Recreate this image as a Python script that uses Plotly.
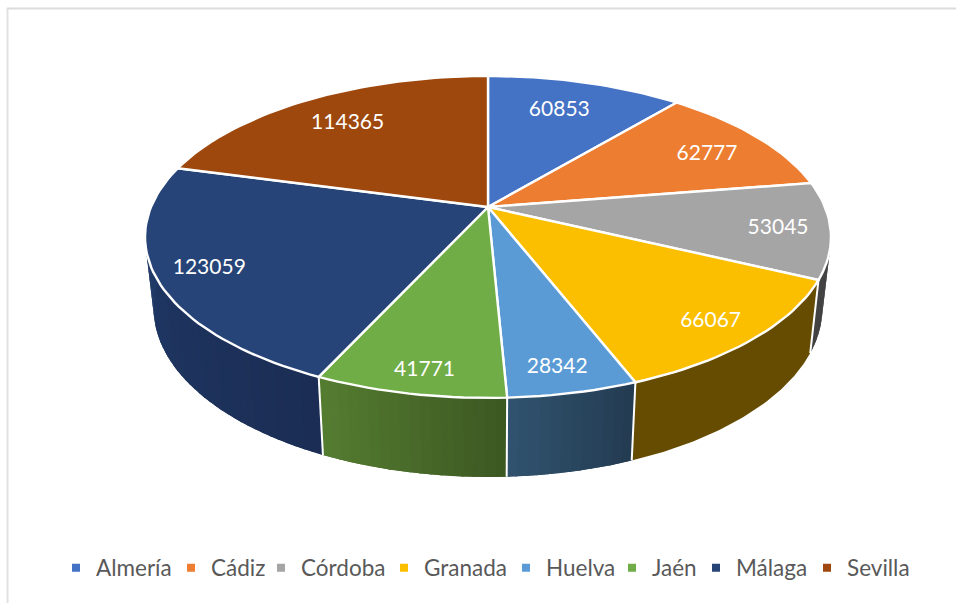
import math
import plotly.graph_objects as go

categories = ["Almería", "Cádiz", "Córdoba", "Granada", "Huelva", "Jaén", "Málaga", "Sevilla"]
values = [60853, 62777, 53045, 66067, 28342, 41771, 123059, 114365]
colors = ["#4472C4", "#ED7D31", "#A5A5A5", "#FBBF00", "#5B9BD5", "#70AD47", "#264478", "#9E480E"]
# rim shading, in clockwise order (screen right to left on the front half)
side_from = [None, None, "#3c3c3c", "#664C00", "#233B51", "#3C5822", "#1B2D54", None]
side_to = [None, None, "#444444", "#664C00", "#31536F", "#557D31", "#213D6C", None]
label_radius = [0.76, 0.79, 0.85, 0.862, 0.872, 0.882, 0.85, 0.771]
label_turn = [-1.5, 1.3, 0.0, 0.3, 0.5, -0.7, 0.4, 0.4]
legend_pitch = [115, 90, 123, 122, 106, 84, 111, 115]

# perspective projection of the pie disc
CX, CY, A, B, K = 488.0, 207.0, 337.0, 155.4, 0.186
BOT_CY, BOT_SX, BOT_SY = 276.5, 0.975, 1.05
LABEL_DY = 2.5


def top(deg, r=1.0):
    t = math.radians(deg)
    X, Y = r * math.sin(t), r * math.cos(t)
    d = 1 + K * Y
    return CX + A * X / d, CY - B * Y / d


def bottom(deg):
    t = math.radians(deg)
    X, Y = math.sin(t), math.cos(t)
    d = 1 + K * Y
    return CX + BOT_SX * A * X / d, BOT_CY - BOT_SY * B * Y / d


def mix(c1, c2, f):
    a = [int(c1[i:i + 2], 16) for i in (1, 3, 5)]
    b = [int(c2[i:i + 2], 16) for i in (1, 3, 5)]
    return "rgb(%d,%d,%d)" % tuple(round(p + (q - p) * f) for p, q in zip(a, b))


def band(s0, s1, col):
    n = max(2, int((s1 - s0) / 0.75))
    steps = [s0 + (s1 - s0) * q / n for q in range(n + 1)]
    pts = [top(s) for s in steps] + [bottom(s) for s in reversed(steps)]
    pts.append(pts[0])
    return go.Scatter(x=[p[0] for p in pts], y=[p[1] for p in pts], mode="lines",
                      fill="toself", fillcolor=col, line=dict(width=0),
                      hoverinfo="skip", showlegend=False)


total = sum(values)
edges = [0.0]
for v in values:
    edges.append(edges[-1] + v / total * 360)

fig = go.Figure()

# rim (side wall) of the front half: a solid base, then shaded bands on it
VIS_START, VIS_END = 78.0, 281.0
for i in range(len(values)):
    if side_from[i] is None:
        continue
    a0, a1 = max(edges[i], VIS_START), min(edges[i + 1], VIS_END)
    fig.add_trace(band(a0, a1, mix(side_from[i], side_to[i], 0.5)))
    if side_from[i] == side_to[i]:
        continue
    n = max(2, int((a1 - a0) / 1.5))
    for j in range(n):
        s0 = a0 + (a1 - a0) * j / n
        s1 = a0 + (a1 - a0) * (j + 1) / n
        fig.add_trace(band(s0, min(s1 + 0.4, a1), mix(side_from[i], side_to[i], (j + 0.5) / n)))

# white seams on the rim
for i in range(1, len(values)):
    e = edges[i]
    if VIS_START < e < VIS_END:
        p, q = top(e), bottom(e)
        fig.add_trace(go.Scatter(x=[p[0], q[0]], y=[p[1], q[1]], mode="lines",
                                 line=dict(color="white", width=2),
                                 hoverinfo="skip", showlegend=False))

# top face
for i, cat in enumerate(categories):
    n = max(8, int((edges[i + 1] - edges[i]) / 1.5))
    arc = [top(edges[i] + (edges[i + 1] - edges[i]) * j / n) for j in range(n + 1)]
    pts = [(CX, CY)] + arc + [(CX, CY)]
    fig.add_trace(go.Scatter(x=[p[0] for p in pts], y=[p[1] for p in pts], mode="lines",
                             fill="toself", fillcolor=colors[i], line=dict(color="white", width=2.4),
                             name=cat, hoverinfo="skip", showlegend=False))

# data labels
lab = [top((edges[i] + edges[i + 1]) / 2 + label_turn[i], label_radius[i]) for i in range(len(values))]
fig.add_trace(go.Scatter(x=[p[0] for p in lab], y=[p[1] + LABEL_DY for p in lab], mode="text",
                         text=[str(v) for v in values],
                         textfont=dict(family="Lato", size=21, color="white"),
                         hoverinfo="skip", showlegend=False))

# legend entries
for i, cat in enumerate(categories):
    fig.add_trace(go.Scatter(x=[None], y=[None], mode="markers", name=cat,
                             marker=dict(symbol="square", size=8, color=colors[i]),
                             legendwidth=legend_pitch[i] - 45))

fig.update_layout(
    width=956, height=603, margin=dict(l=0, r=0, t=0, b=0),
    paper_bgcolor="white", plot_bgcolor="white",
    xaxis=dict(range=[0, 956], visible=False, fixedrange=True),
    yaxis=dict(range=[603, 0], visible=False, fixedrange=True),
    legend=dict(orientation="h", x=56 / 956, xanchor="left", y=(603 - 568) / 603, yanchor="middle",
                font=dict(family="Lato", size=22.5, color="#595959"), bgcolor="rgba(0,0,0,0)",
                traceorder="normal"),
    shapes=[
        dict(type="line", xref="paper", yref="paper", x0=7.5 / 956, x1=7.5 / 956, y0=0, y1=1 - 8 / 603,
             line=dict(color="#e2e2e2", width=2)),
        dict(type="line", xref="paper", yref="paper", x0=7 / 956, x1=1, y0=1 - 8.5 / 603, y1=1 - 8.5 / 603,
             line=dict(color="#dcdcdc", width=2)),
    ],
)
fig.write_html("out.html", post_script="document.body.style.margin='0';",
               config=dict(displayModeBar=False))
